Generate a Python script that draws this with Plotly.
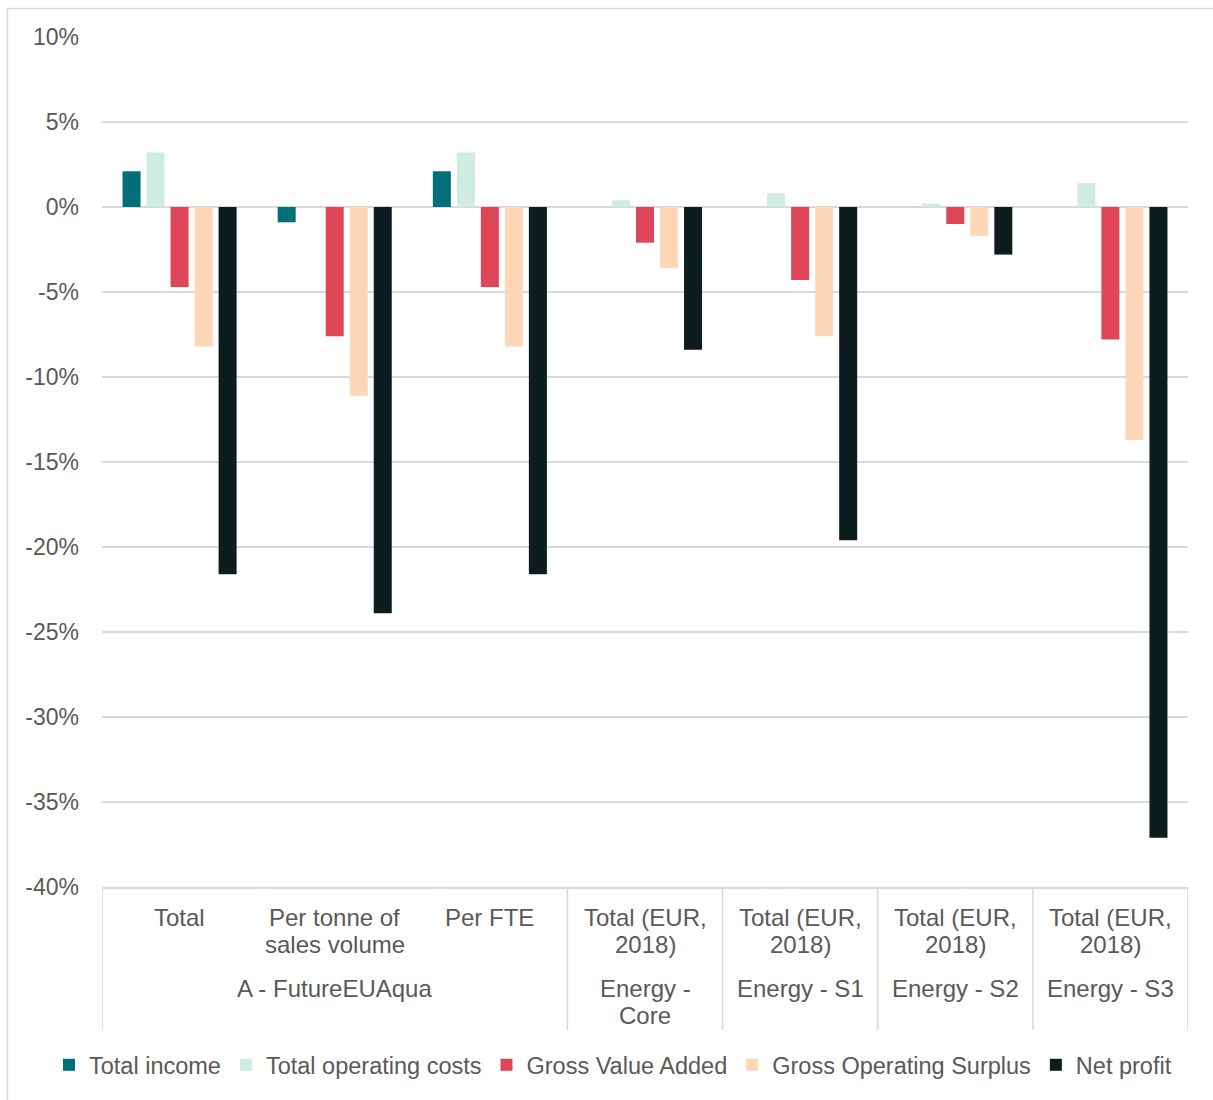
import plotly.graph_objects as go

# ---- data ----
sub_labels = ["Total", "Per tonne of<br>sales volume", "Per FTE",
              "Total (EUR,<br>2018)", "Total (EUR,<br>2018)", "Total (EUR,<br>2018)", "Total (EUR,<br>2018)"]
group_labels = ["A - FutureEUAqua", "Energy -<br>Core", "Energy - S1", "Energy - S2", "Energy - S3"]
group_sizes = [3, 1, 1, 1, 1]

series_names = ["Total income", "Total operating costs", "Gross Value Added",
                "Gross Operating Surplus", "Net profit"]
total_income = [2.1, -0.9, 2.1, 0.0, 0.0, 0.0, 0.0]
total_operating_costs = [3.2, 0.0, 3.2, 0.4, 0.8, 0.2, 1.4]
gross_value_added = [-4.7, -7.6, -4.7, -2.1, -4.3, -1.0, -7.8]
gross_operating_surplus = [-8.2, -11.1, -8.2, -3.6, -7.6, -1.7, -13.7]
net_profit = [-21.6, -23.9, -21.6, -8.4, -19.6, -2.8, -37.1]

y_ticks = [10, 5, 0, -5, -10, -15, -20, -25, -30, -35, -40]
y_tick_text = ["10%", "5%", "0%", "-5%", "-10%", "-15%", "-20%", "-25%", "-30%", "-35%", "-40%"]

colors = ["#006f79", "#d0ebe1", "#df4759", "#fed7b8", "#0d1d1d"]
series = [total_income, total_operating_costs, gross_value_added, gross_operating_surplus, net_profit]

FONT = "Liberation Sans, Arial, sans-serif"
GRAY = "#595959"
GRID = "#d9d9d9"
LABEL_SIZE = 24
LEGEND_SIZE = 23.5

x_idx = list(range(len(sub_labels)))

fig = go.Figure()
for name, vals, col in zip(series_names, series, colors):
    fig.add_trace(go.Bar(x=x_idx, y=vals, name=name, marker=dict(color=col, line=dict(width=0))))

W, H = 1213, 1100
ml, mr, mt, mb = 102, 25, 37, 213
pw, ph = W - ml - mr, H - mt - mb
axis_px = H - mb  # pixel row of the category axis


def py(pix):
    """pixel row below the plot -> paper y"""
    return -(pix - axis_px) / ph


annotations = []
shapes = []
LINE1, LINE_STEP = 917, 27

# category (sub) labels, one annotation per text line
for i, lab in enumerate(sub_labels):
    for k, line in enumerate(lab.split("<br>")):
        annotations.append(dict(x=i, xref="x", y=py(LINE1 + k * LINE_STEP), yref="paper",
                                text=line, showarrow=False, yanchor="middle",
                                font=dict(family=FONT, size=LABEL_SIZE, color=GRAY)))

# group labels and dividers
start = 0
boundaries = [-0.5]
GLINE1 = 988
for g, n in zip(group_labels, group_sizes):
    center = start + (n - 1) / 2
    for k, line in enumerate(g.split("<br>")):
        annotations.append(dict(x=center, xref="x", y=py(GLINE1 + k * LINE_STEP), yref="paper",
                                text=line, showarrow=False, yanchor="middle",
                                font=dict(family=FONT, size=LABEL_SIZE, color=GRAY)))
    start += n
    boundaries.append(start - 0.5)
for b in boundaries:
    shapes.append(dict(type="line", xref="x", yref="paper", x0=b, x1=b, y0=0, y1=py(1030),
                       line=dict(color=GRID, width=1.5)))
# outer chart border
shapes.append(dict(type="rect", xref="paper", yref="paper",
                   x0=(7.5 - ml) / pw, x1=(1230 - ml) / pw,
                   y0=py(1120), y1=1 + (mt - 8.5) / ph,
                   line=dict(color=GRID, width=1.5), fillcolor="rgba(0,0,0,0)"))

fig.update_layout(
    width=W, height=H,
    margin=dict(l=ml, r=mr, t=mt, b=mb),
    paper_bgcolor="white", plot_bgcolor="white",
    barmode="group", bargap=0.226, bargroupgap=0.25,
    font=dict(family=FONT, size=23, color=GRAY),
    showlegend=True,
    legend=dict(orientation="h", xref="paper", yref="paper", x=(49 - ml) / pw, xanchor="left",
                y=py(1065), yanchor="middle", font=dict(size=LEGEND_SIZE, color=GRAY),
                itemwidth=30, tracegroupgap=0, borderwidth=0),
    xaxis=dict(range=[-0.5, 6.5], tickmode="array", tickvals=x_idx, showticklabels=False,
               showgrid=False, zeroline=False, showline=True, linecolor=GRID, linewidth=1.5,
               ticks=""),
    yaxis=dict(range=[-40, 10], tickmode="array", tickvals=y_ticks, ticktext=y_tick_text,
               showgrid=True, gridcolor=GRID, gridwidth=1.5, zeroline=True, zerolinecolor=GRID,
               zerolinewidth=1.5, showline=False, ticks="", ticklabelstandoff=22,
               tickfont=dict(size=23, color=GRAY)),
    annotations=annotations, shapes=shapes,
)

fig.write_html("out.html")
